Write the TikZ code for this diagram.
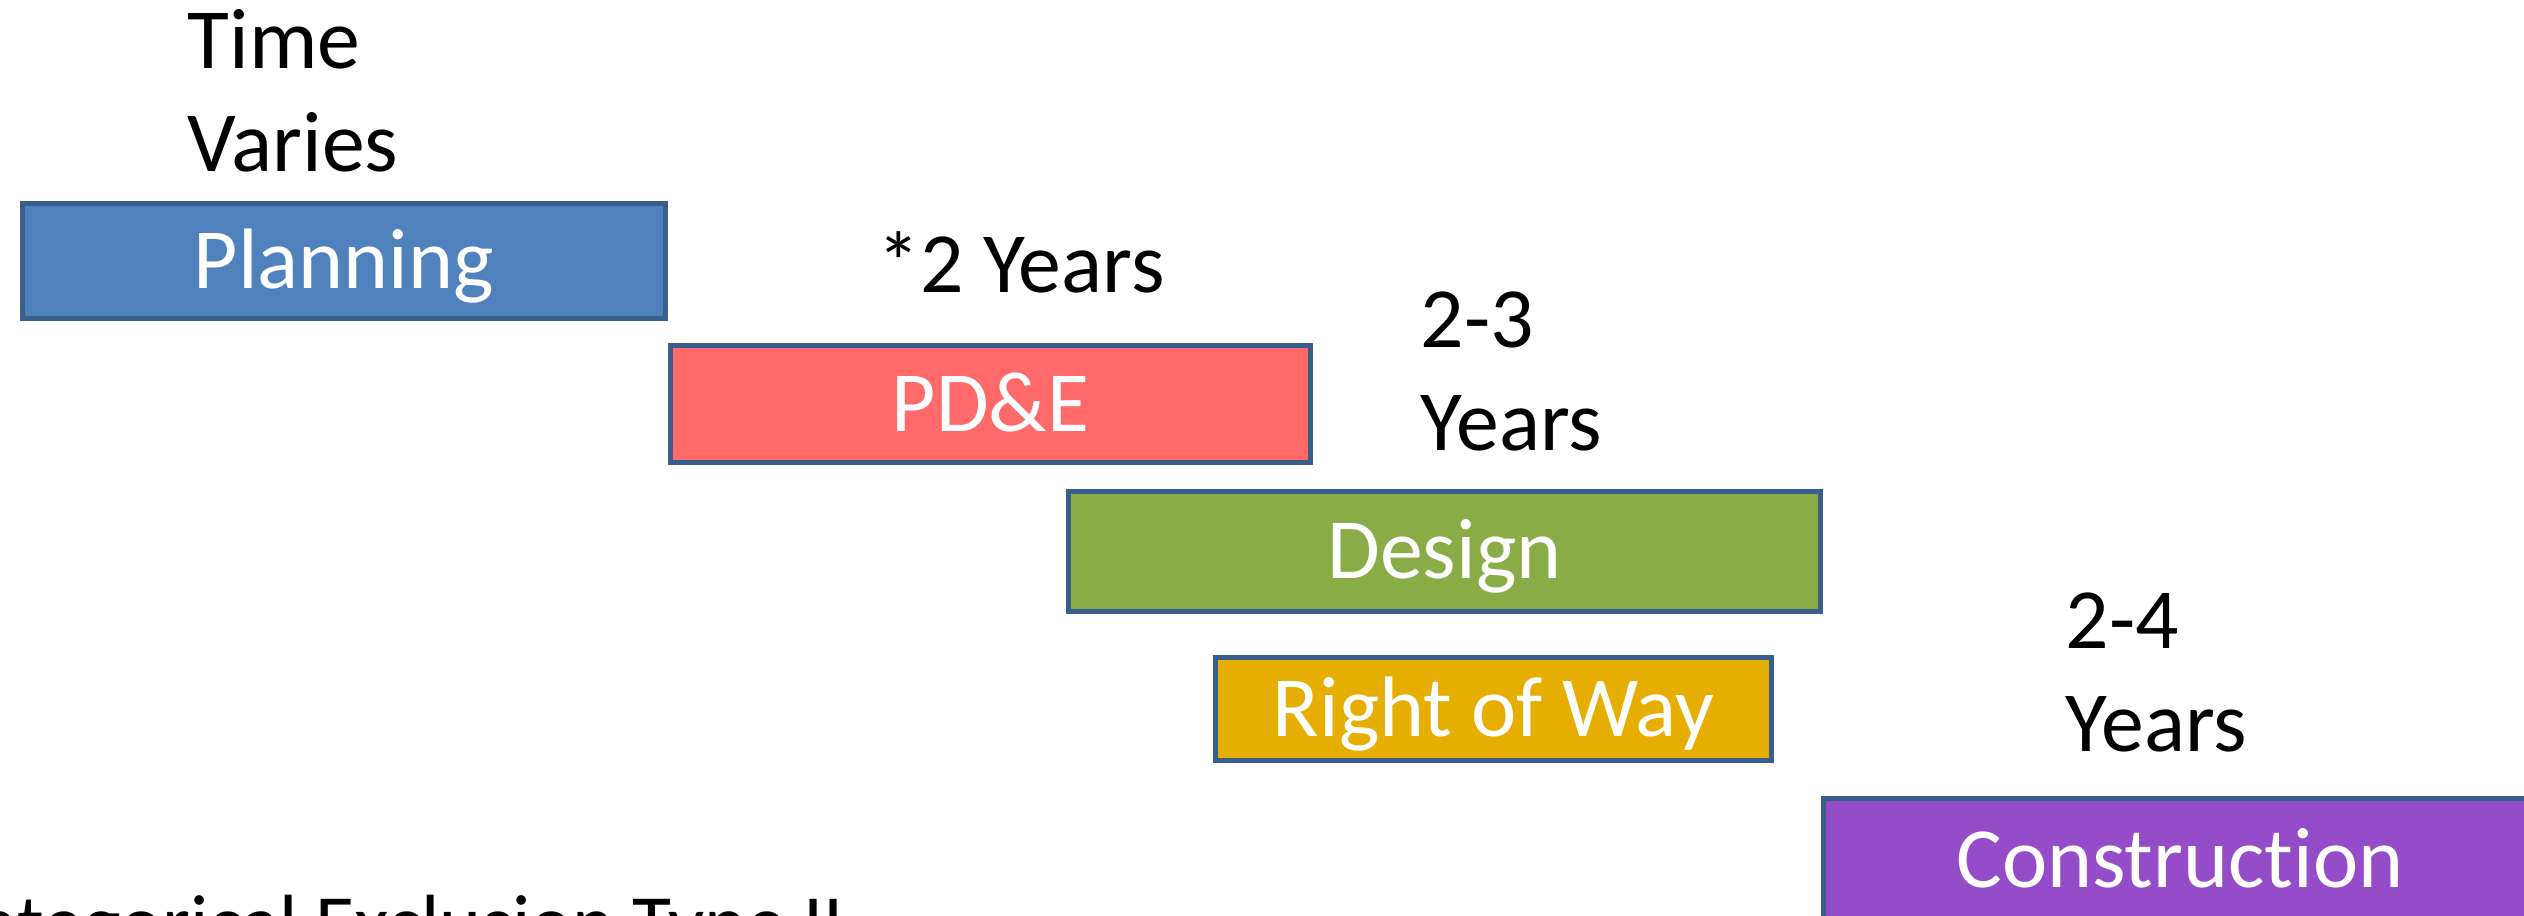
\documentclass[tikz,border=0pt]{standalone}
\usepackage{fontspec}
\setmainfont[Ligatures=NoCommon]{Carlito}

\definecolor{edgeblue}{HTML}{3A5E8C}
\definecolor{planblue}{HTML}{4F81BD}
\definecolor{pdered}{HTML}{FF6969}
\definecolor{designgreen}{HTML}{8AAC46}
\definecolor{rowgold}{HTML}{E5AE00}
\definecolor{conpurple}{HTML}{944CC8}

\newcommand{\phasefont}{\fontsize{24.4}{29.3}\selectfont}

\begin{document}
\begin{tikzpicture}[
    phase/.style={draw=edgeblue, line width=1.4pt, text=white, inner sep=0pt,
        text height=0.545cm, text depth=0pt, font=\phasefont},
    span/.style={anchor=base west, inner sep=0pt, font=\phasefont}
]
    % Frame
    \useasboundingbox (0,0) rectangle (25.24,-9.16);
    \clip (0,0) rectangle (25.24,-9.16);

    % Phase bars
    \node[phase, fill=planblue, minimum width=6.43cm, minimum height=1.15cm] (plan) at (3.44,-2.61) {Planning};
    \node[phase, fill=pdered, minimum width=6.40cm, minimum height=1.17cm] (pde) at (9.905,-4.04) {PD\&E};
    \node[phase, fill=designgreen, minimum width=7.52cm, minimum height=1.20cm] (design) at (14.445,-5.515) {Design};
    \node[phase, fill=rowgold, minimum width=5.56cm, minimum height=1.03cm] (row) at (14.935,-7.09) {Right of Way};
    \node[phase, fill=conpurple, minimum width=7.13cm, minimum height=1.23cm] (constr) at (21.80,-8.60) {Construction};

    % Durations
    \node[span] (plantime) at (1.87,-0.69) {\begin{tabular}[t]{@{}l@{}}Time\\Varies\end{tabular}};
    \node[span] (pdetime) at (8.77,-2.93) {*2 Years};
    \node[span] (designtime) at (14.20,-3.48) {\begin{tabular}[t]{@{}l@{}}2-3\\Years\end{tabular}};
    \node[span] (contime) at (20.65,-6.49) {\begin{tabular}[t]{@{}l@{}}2-4\\Years\end{tabular}};

    % Footnote
    \node[span, anchor=base east, font=\fontsize{22.7}{27}\selectfont] (note) at (8.45,-9.50) {Categorical Exclusion Type II};
\end{tikzpicture}
\end{document}
